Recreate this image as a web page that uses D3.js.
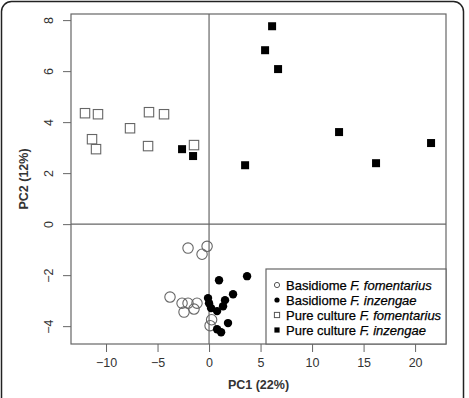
<!DOCTYPE html>
<html>
<head>
<meta charset="utf-8">
<script src="https://cdn.jsdelivr.net/npm/d3@7"></script>
<style>
body { margin: 0; background: #fff; }
svg text { font-family: "Liberation Sans", Arial, sans-serif; }
</style>
</head>
<body>
<div id="chart"></div>
<script>
// PCA scores
let basidiomeFomentarius = [
  [-2.04, -0.94], [-0.19, -0.87], [-0.68, -1.18],
  [-3.79, -2.86], [-2.62, -3.10], [-2.04, -3.10], [-1.17, -3.10],
  [-2.43, -3.45], [-1.46, -3.33], [0.25, -3.75], [0.10, -3.98]
];
let basidiomeInzengae = [
  [0.97, -2.20], [3.69, -2.04], [-0.10, -2.90], [2.33, -2.75],
  [1.55, -2.98], [1.36, -3.22], [0.19, -3.29], [0.78, -3.41],
  [1.84, -3.88], [0.78, -4.12], [1.17, -4.24], [0.0, -3.10]
];
let cultureFomentarius = [
  [-12.04, 4.35], [-10.78, 4.31], [-11.36, 3.33], [-10.97, 2.94],
  [-7.67, 3.76], [-5.83, 4.39], [-4.37, 4.31], [-5.92, 3.06], [-1.46, 3.10]
];
let cultureInzengae = [
  [-2.62, 2.94], [-1.55, 2.67], [6.12, 7.76], [5.44, 6.82], [6.70, 6.08],
  [12.62, 3.61], [21.55, 3.18], [16.21, 2.39], [3.50, 2.31]
];
let xTicks = [-10, -5, 0, 5, 10, 15, 20];
let yTicks = [-4, -2, 0, 2, 4, 6, 8];
let legendLabels = [
  ["Basidiome ", "F. fomentarius"],
  ["Basidiome ", "F. inzengae"],
  ["Pure culture ", "F. fomentarius"],
  ["Pure culture ", "F. inzengae"]
];

let svg_width = 469;
let svg_height = 398;
let margin = { top: 14, right: 23, bottom: 54, left: 71 };
let width = svg_width - margin.left - margin.right;
let height = svg_height - margin.top - margin.bottom;

let svg = d3.select("#chart")
  .append("svg")
  .attr("width", svg_width)
  .attr("height", svg_height);

// outer rounded frame
svg.append("rect")
  .attr("x", 1.5).attr("y", 1.5)
  .attr("width", 462).attr("height", 410)
  .attr("rx", 10)
  .attr("fill", "none")
  .attr("stroke", "#222")
  .attr("stroke-width", 1.5);

let g = svg.append("g")
  .attr("transform", `translate(${margin.left}, ${margin.top})`);

let x = d3.scaleLinear().domain([-13.4, 23.0]).range([0, width]);
let y = d3.scaleLinear().domain([-4.7, 8.24]).range([height, 0]);

// x axis
let xAxis = g.append("g")
  .attr("transform", `translate(0, ${height})`)
  .call(d3.axisBottom(x).tickValues(xTicks).tickSize(8).tickPadding(6).tickFormat(d3.format("d")));
// y axis
let yAxis = g.append("g")
  .call(d3.axisLeft(y).tickValues(yTicks).tickSize(8).tickPadding(6).tickFormat(d3.format("d")));

[xAxis, yAxis].forEach(a => {
  a.select(".domain").remove();
  a.selectAll("line").attr("stroke", "#666");
  a.selectAll("text").attr("fill", "#333").attr("font-size", "12.5px");
});
yAxis.selectAll(".tick text")
  .attr("text-anchor", "middle")
  .attr("dy", "0.35em")
  .attr("x", null)
  .attr("transform", "translate(-22,0) rotate(-90)");

// plot box
g.append("rect")
  .attr("width", width).attr("height", height)
  .attr("fill", "none").attr("stroke", "#666").attr("stroke-width", 1.2);

// zero lines
g.append("line")
  .attr("x1", x(0)).attr("x2", x(0)).attr("y1", 0).attr("y2", height)
  .attr("stroke", "#666").attr("stroke-width", 1.2);
g.append("line")
  .attr("x1", 0).attr("x2", width).attr("y1", y(0)).attr("y2", y(0))
  .attr("stroke", "#666").attr("stroke-width", 1.2);

// points
g.selectAll(".bf").data(basidiomeFomentarius).enter().append("circle")
  .attr("cx", d => x(d[0])).attr("cy", d => y(d[1])).attr("r", 5.2)
  .attr("fill", "none").attr("stroke", "#666").attr("stroke-width", 1.1);

g.selectAll(".bi").data(basidiomeInzengae).enter().append("circle")
  .attr("cx", d => x(d[0])).attr("cy", d => y(d[1])).attr("r", 4.2)
  .attr("fill", "#000");

g.selectAll(".cf").data(cultureFomentarius).enter().append("rect")
  .attr("x", d => x(d[0]) - 4.7).attr("y", d => y(d[1]) - 4.7)
  .attr("width", 9.4).attr("height", 9.4)
  .attr("fill", "none").attr("stroke", "#666").attr("stroke-width", 1.1);

g.selectAll(".ci").data(cultureInzengae).enter().append("rect")
  .attr("x", d => x(d[0]) - 4).attr("y", d => y(d[1]) - 4)
  .attr("width", 8).attr("height", 8)
  .attr("fill", "#000");

// legend
let lx = 266 - margin.left, ly = 269 - margin.top;
g.append("rect")
  .attr("x", lx).attr("y", ly)
  .attr("width", width - lx).attr("height", height - ly)
  .attr("fill", "#fff").attr("stroke", "#666").attr("stroke-width", 1.2);

let leg = g.selectAll(".leg").data(legendLabels).enter().append("g")
  .attr("transform", (d, i) => `translate(${lx + 11}, ${ly + 16 + i * 15})`);

leg.each(function(d, i) {
  let s = d3.select(this);
  if (i === 0) s.append("circle").attr("r", 2.6).attr("fill", "none").attr("stroke", "#555");
  if (i === 1) s.append("circle").attr("r", 2.6).attr("fill", "#000");
  if (i === 2) s.append("rect").attr("x", -2.6).attr("y", -2.6).attr("width", 5.2).attr("height", 5.2).attr("fill", "none").attr("stroke", "#555");
  if (i === 3) s.append("rect").attr("x", -2.6).attr("y", -2.6).attr("width", 5.2).attr("height", 5.2).attr("fill", "#000");
  let t = s.append("text").attr("x", 9).attr("dy", "0.35em")
    .attr("font-size", "13px").attr("fill", "#000")
    .attr("stroke", "#000").attr("stroke-width", 0.25);
  t.append("tspan").text(d[0]);
  t.append("tspan").attr("font-style", "italic").text(d[1]);
});

// axis titles
g.append("text")
  .attr("x", width / 2).attr("y", height + 45)
  .attr("text-anchor", "middle")
  .attr("font-size", "12.5px").attr("font-weight", "bold").attr("fill", "#333")
  .text("PC1 (22%)");

g.append("text")
  .attr("transform", `translate(${24 - margin.left}, ${height / 2}) rotate(-90)`)
  .attr("text-anchor", "middle").attr("dy", "0.35em")
  .attr("font-size", "12.5px").attr("font-weight", "bold").attr("fill", "#333")
  .text("PC2 (12%)");
</script>
</body>
</html>
